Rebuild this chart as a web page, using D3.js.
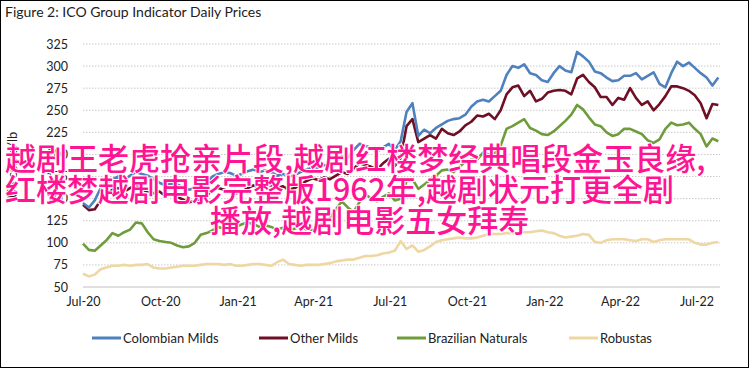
<!DOCTYPE html>
<html>
<head>
<meta charset="utf-8">
<script src="https://cdn.jsdelivr.net/npm/d3@7/dist/d3.min.js"></script>
<style>
  body { margin: 0; background: #fff; }
  svg { display: block; font-family: Lato, "Open Sans", sans-serif; }
</style>
</head>
<body>
<div id="chart"></div>
<script>
// weekly readings, starting 1 Jul 2020
const seriesNames = ["Colombian Milds", "Other Milds", "Brazilian Naturals", "Robustas"];
const seriesColors = ["#4f81bd", "#6e0f26", "#6f9c3b", "#eed7a3"];

const colombianMilds = [145,140,148,162,168,172,175,171,176,180,178,176,172,168,165,167,
  166,163,160,162,165,168,175,178,180,179,176,178,181,183,180,182,180,176,178,175,177,180,
  183,186,185,188,186,192,198,196,205,212,210,207,203,208,212,205,215,248,258,221,228,224,
  230,234,238,240,241,245,254,260,262,260,266,272,290,300,298,302,292,290,284,282,292,300,
  295,293,316,311,305,294,292,287,283,284,289,289,292,285,289,293,280,276,292,305,300,304,
  298,292,287,278,287];

const otherMilds = [143,137,138,148,155,160,162,158,162,165,160,158,156,158,153,155,
  152,149,146,147,150,153,160,162,160,158,156,158,162,165,163,166,165,162,164,160,162,166,
  170,173,171,174,172,176,180,178,184,190,188,186,183,190,195,187,196,232,240,214,218,222,
  218,229,224,222,226,233,237,244,243,246,240,250,268,276,278,266,272,260,263,270,272,273,
  272,268,286,290,282,276,265,265,256,264,262,275,264,256,260,250,257,266,277,277,275,272,
  267,258,241,257,256];

const brazilianNaturals = [99,92,91,97,103,111,108,112,115,123,122,112,104,102,101,100,
  97,95,96,100,109,111,114,118,116,120,118,121,123,121,118,120,118,115,117,114,116,118,
  115,114,118,123,128,138,147,140,135,146,155,150,147,152,156,148,150,170,172,161,166,171,
  176,182,183,180,186,192,194,194,202,200,201,210,229,232,236,240,230,227,223,222,226,232,
  238,245,256,251,242,234,232,225,221,223,229,229,226,223,216,213,217,229,236,233,234,236,
  229,223,209,218,215];

const robustas = [65,62,64,70,72,74,74,75,74,75,75,76,72,71,71,72,
  73,74,74,74,75,76,76,76,75,76,74,74,75,76,76,75,74,78,81,76,75,74,
  75,75,75,76,77,79,80,81,81,83,85,85,86,88,89,91,102,93,97,90,92,96,
  101,103,104,105,106,105,105,106,108,110,110,110,111,111,111,112,112,113,114,112,111,108,
  106,107,108,110,109,101,100,103,104,104,104,103,102,104,104,101,103,104,104,104,104,104,
  100,98,98,100,101];

const yTicks = [50, 75, 100, 125, 150, 175, 200, 225, 250, 275, 300, 325];
const xTickLabels = ["Jul-20","Oct-20","Jan-21","Apr-21","Jul-21","Oct-21","Jan-22","Apr-22","Jul-22"];
const overlayLines = [
  "越剧王老虎抢亲片段,越剧红楼梦经典唱段金玉良缘,",
  "红楼梦越剧电影完整版1962年,越剧状元打更全剧",
  "播放,越剧电影五女拜寿"
];

const width = 751, height = 370;
const dates = d3.timeDay.range(new Date(2020, 6, 1), new Date(2022, 6, 28), 7);
const xTickDates = d3.timeMonth.range(new Date(2020, 6, 1), new Date(2022, 7, 1), 3);
const allSeries = [colombianMilds, otherMilds, brazilianNaturals, robustas];

const x = d3.scaleTime()
  .domain([new Date(2020, 6, 1), new Date(2022, 6, 29)])
  .range([83, 720]);
const y = d3.scaleLinear()
  .domain([50, 325])
  .range([287, 44]);

const svg = d3.select("#chart").append("svg")
  .attr("width", width)
  .attr("height", height);

svg.append("rect")
  .attr("x", 0.5).attr("y", 0.5)
  .attr("width", 748).attr("height", 367)
  .attr("fill", "#fff").attr("stroke", "#000");

svg.append("text")
  .attr("x", 5).attr("y", 17)
  .attr("font-size", 14).attr("fill", "#222")
  .text("Figure 2: ICO Group Indicator Daily Prices");

// grid
svg.selectAll(".grid")
  .data(yTicks)
  .enter().append("line")
    .attr("x1", 83).attr("x2", 720)
    .attr("y1", d => y(d)).attr("y2", d => y(d))
    .attr("stroke", d => d === 50 ? "#d4d4d4" : "#c9c9c9")
    .attr("stroke-width", d => d === 50 ? 1.5 : 1)
    .attr("stroke-dasharray", d => d === 50 ? null : "1.5,1.5");

const yAxis = svg.append("g")
  .attr("transform", "translate(70,0)")
  .call(d3.axisLeft(y).tickValues(yTicks).tickSize(0).tickPadding(2));
yAxis.select(".domain").remove();
yAxis.selectAll("text").attr("font-size", 12.5).attr("fill", "#222")
  .attr("font-family", "Lato, sans-serif");

const xAxis = svg.append("g")
  .attr("transform", "translate(0,287)")
  .call(d3.axisBottom(x).tickValues(xTickDates).tickSize(0).tickPadding(10)
    .tickFormat((d, i) => xTickLabels[i]));
xAxis.select(".domain").remove();
xAxis.selectAll("text").attr("font-size", 12.5).attr("fill", "#222")
  .attr("font-family", "Lato, sans-serif");

svg.append("text")
  .attr("transform", "translate(17,165) rotate(-90)")
  .attr("text-anchor", "middle")
  .attr("font-size", 13).attr("fill", "#222")
  .text("US cents/lb");

const line = d3.line()
  .x((d, i) => x(dates[i]))
  .y(d => y(d));

// draw back to front: robustas first
[3, 2, 1, 0].forEach(k => {
  svg.append("path")
    .datum(allSeries[k])
    .attr("d", line)
    .attr("fill", "none")
    .attr("stroke", seriesColors[k])
    .attr("stroke-width", 2.6)
    .attr("stroke-linejoin", "round");
});

// legend
const legendX = [92, 259, 397, 569];
const legend = svg.selectAll(".legend")
  .data(seriesNames)
  .enter().append("g")
    .attr("transform", (d, i) => "translate(" + legendX[i] + ",338)");
legend.append("line")
  .attr("x1", 0).attr("x2", 29)
  .attr("stroke", (d, i) => seriesColors[i])
  .attr("stroke-width", 3);
legend.append("text")
  .attr("x", 31).attr("dy", "0.35em")
  .attr("font-size", 13).attr("fill", "#222")
  .text(d => d);

// overlay caption
svg.selectAll(".overlay")
  .data(overlayLines)
  .enter().append("text")
    .attr("x", (d, i) => i === 2 ? 210 : 5)
    .attr("y", (d, i) => 170 + i * 31)
    .attr("font-family", "'Noto Sans CJK SC', sans-serif")
    .attr("font-weight", 500)
    .attr("font-size", 31)
    .attr("fill", "#ff1493")
    .attr("stroke", "#fff")
    .attr("stroke-width", 2)
    .attr("paint-order", "stroke")
    .text(d => d);
</script>
</body>
</html>
